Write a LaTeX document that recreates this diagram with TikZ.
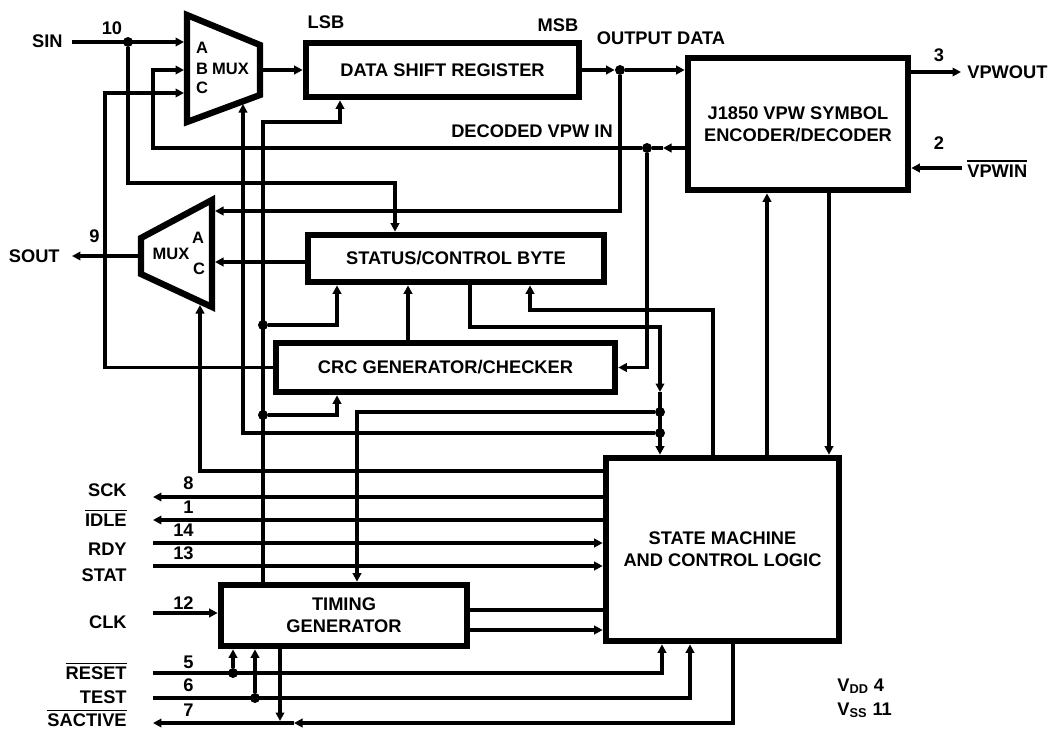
\documentclass[tikz,border=0pt]{standalone}
\usepackage{fontspec}
\setmainfont{Liberation Sans}
\usetikzlibrary{arrows.meta}
\usetikzlibrary{calc}
\newcommand{\ovl}[1]{\setbox0\hbox{#1}\rlap{\raise\dimexpr\ht0+1.4pt\relax\hbox{\vrule width\wd0 height 0.9pt depth 0pt}}\box0}

\begin{document}
\begin{tikzpicture}[x=0.02cm,y=-0.02cm]
			\tikzstyle{every node}=[font=\fontsize{10.4}{12.5}\selectfont\bfseries]
			\tikzstyle{blk}=[draw,line width=3.8pt,align=center,inner sep=0pt]
			\tikzstyle{wire}=[line width=2.2pt]
			\tikzstyle{sig}=[wire,-{Triangle[length=1.7mm,width=1.7mm]}]
			\tikzstyle{dot}=[circle,fill,inner sep=0pt,minimum size=2mm]
			\tikzstyle{lbl}=[inner sep=0pt]
			\tikzstyle{muxtxt}=[inner sep=0pt,font=\fontsize{9.4}{11}\selectfont\bfseries]

			\useasboundingbox (0,0) rectangle (1052,731);

			% blocks
			\node (dsr) [blk,minimum width=5.46cm,minimum height=1.08cm] at (442.5,70) {DATA SHIFT REGISTER};
			\node (enc) [blk,minimum width=4.4cm,minimum height=2.64cm] at (798,124) {J1850 VPW SYMBOL\\ENCODER/DECODER};
			\node (status) [blk,minimum width=5.92cm,minimum height=0.94cm] at (456,258.5) {STATUS/CONTROL BYTE};
			\node (crc) [blk,minimum width=6.78cm,minimum height=0.98cm] at (445.5,367.5) {CRC GENERATOR/CHECKER};
			\node (sm) [blk,minimum width=4.66cm,minimum height=3.66cm] at (722.5,549.5) {STATE MACHINE\\AND CONTROL LOGIC};
			\node (tim) [blk,minimum width=4.92cm,minimum height=1.22cm] at (344,615.5) {TIMING\\GENERATOR};

			% multiplexers
			\draw[line width=3.6pt] (187,15) -- (260,45) -- (260,95) -- (187,122) -- cycle;
			\draw[line width=3.6pt] (212,200) -- (141,238) -- (141,274) -- (212,307) -- cycle;
			\node[muxtxt] (lA1) at (202,48) {A};
			\node[muxtxt] (lB1) at (202,69) {B};
			\node[muxtxt] (lM1) at (230.5,69) {MUX};
			\node[muxtxt] (lC1) at (202,88) {C};
			\node[muxtxt] (lA2) at (198,238) {A};
			\node[muxtxt] (lM2) at (171,254) {MUX};
			\node[muxtxt] (lC2) at (199,269) {C};

			\coordinate (m1A) at (184,42);
			\coordinate (m1B) at (184,70);
			\coordinate (m1C) at (184,93);
			\coordinate (m1O) at (263,70);
			\coordinate (m1S) at (243,104);
			\coordinate (m2A) at (215,211);
			\coordinate (m2C) at (215,262);
			\coordinate (m2O) at (138,256);
			\coordinate (m2S) at (200,305);

			% junctions
			\node[dot] (d10) at (128,42) {};
			\node[dot] (dOut) at (620,70) {};
			\node[dot] (dDec) at (647,148) {};
			\node[dot] (dS) at (263,325) {};
			\node[dot] (dC) at (263,415) {};
			\node[dot] (dT) at (660,412) {};
			\node[dot] (dM) at (660,433) {};
			\node[dot] (dRs) at (233,673) {};
			\node[dot] (dTs) at (255,698) {};

			% labels
			\node[lbl,anchor=base east] (sin) at (63,47.5) {SIN};
			\node[lbl,anchor=base] (n10) at (112,34.5) {10};
			\node[lbl,anchor=base] (lsb) at (326,28.5) {LSB};
			\node[lbl,anchor=base] (msb) at (558,31) {MSB};
			\node[lbl,anchor=base] (outd) at (661,44) {OUTPUT DATA};
			\node[lbl,anchor=base] (decd) at (532,137) {DECODED VPW IN};
			\node[lbl,anchor=base] (n3) at (939,61) {3};
			\node[lbl,anchor=base west] (vpwout) at (967,78.5) {VPWOUT};
			\node[lbl,anchor=base] (n2) at (939,149) {2};
			\node[lbl,anchor=base west] (vpwin) at (967,177) {\ovl{VPWIN}};
			\node[lbl,anchor=base east] (sout) at (60,262) {SOUT};
			\node[lbl,anchor=base east] (n9) at (100,242) {9};
			\node[lbl,anchor=base west] (vdd) at (837,691) {V\textsubscript{DD} 4};
			\node[lbl,anchor=base west] (vss) at (837,715) {V\textsubscript{SS} 11};

			\foreach \nm/\txt/\yb in {sck/SCK/496.5,idle/\ovl{IDLE}/526.5,rdy/RDY/555.5,stat/STAT/581.5,clk/CLK/628.5,reset/\ovl{RESET}/679.5,test/TEST/703.5,sact/\ovl{SACTIVE}/726.5}
				\node[lbl,anchor=base east] (\nm) at (127,\yb) {\txt};
			\foreach \nm/\num/\yb in {p8/8/489,p1/1/513,p14/14/536,p13/13/559,p12/12/609,p5/5/668,p6/6/691,p7/7/716}
				\node[lbl,anchor=base east] (\nm) at (194,\yb) {\num};

			% pin ends and bends
			\coordinate (eSin) at (72,42);
			\coordinate (eSout) at (72,256);
			\coordinate (eVout) at (961,72);
			\coordinate (eVin) at (962,168);
			\coordinate (eSck) at (153,497);
			\coordinate (eIdle) at (153,520);
			\coordinate (eRdy) at (153,543);
			\coordinate (eStat) at (153,566);
			\coordinate (eClk) at (153,613);
			\coordinate (eReset) at (153,673);
			\coordinate (eTest) at (153,698);
			\coordinate (eSact) at (153,723);
			\coordinate (c1) at (395,183);
			\coordinate (cB) at (153,70);
			\coordinate (cC) at (105,93);
			\coordinate (cO) at (620,211);
			\coordinate (kDa) at (663,148);
			\coordinate (kD) at (340,122);
			\coordinate (kS) at (337,325);
			\coordinate (kX) at (408,340);
			\coordinate (kQ) at (470,327);
			\coordinate (kA) at (660,392);
			\coordinate (kT) at (357,412);
			\coordinate (kU) at (713,310);
			\coordinate (kV) at (530,310);
			\coordinate (kE) at (767,300);
			\coordinate (kF) at (829,300);
			\coordinate (kM) at (200,471);
			\coordinate (kG) at (470,610);
			\coordinate (kH) at (470,630);
			\coordinate (kR) at (662,673);
			\coordinate (kW) at (690,698);
			\coordinate (kY) at (733,723);
			\coordinate (kZ) at (294,723);
			\coordinate (kTs) at (280,721);

			% serial data path
			\draw[sig] (eSin) -- (m1A);
			\draw[sig] (d10) |- (c1) -- (c1 |- status.north);
			\draw[sig] (m1O) -- (dsr.west);
			\draw[sig] (dsr.east) -- (dOut.west);
			\draw[sig] (dOut) -- (dOut -| enc.west);
			\draw[sig] (eVout -| enc.east) -- (eVout);
			\draw[sig] (eVin) -- (eVin -| enc.east);
			\draw[sig] (kDa -| enc.west) -- (kDa);
			\draw[wire] (kDa) -- (dDec);
			\draw[sig] (dDec) -| (cB) -- (m1B);
			\draw[sig] (dDec) |- (crc.east);
			\draw[sig] (crc.west) -| (cC) -- (m1C);
			\draw[sig] (dOut) -- (cO) -- (m2A);
			\draw[sig] (status.west |- m2C) -- (m2C);
			\draw[sig] (m2O) -- (eSout);

			% timing generator outputs
			\draw[sig] (dS |- tim.north) |- (kD) -- (kD |- dsr.south);
			\draw[sig] (dS) -| (kS |- status.south);
			\draw[sig] (dC) -| (kS |- crc.south);
			\draw[sig] (kX |- crc.north) -- (kX |- status.south);

			% control paths
			\draw[sig] (kQ |- status.south) -- (kQ) -| (kA);
			\draw[sig] (kA) -- (kA |- sm.north);
			\draw[sig] (dT) -| (kT |- tim.north);
			\draw[sig] (dM) -| (m1S);
			\draw[sig] (kU |- sm.north) |- (kV) -- (kV |- status.south);
			\draw[sig] (kE |- sm.north) -- (kE |- enc.south);
			\draw[sig] (kF |- enc.south) -- (kF |- sm.north);
			\draw[sig] (sm.west |- kM) -| (m2S);

			\path[sig] (sm.west |- eSck) edge (eSck)
			(sm.west |- eIdle) edge (eIdle)
			(eRdy) edge (eRdy -| sm.west)
			(eStat) edge (eStat -| sm.west)
			(eClk) edge (eClk -| tim.west)
			(tim.east |- kH) edge (kH -| sm.west);
			\draw[wire] (tim.east |- kG) -- (kG -| sm.west);

			\draw[sig] (eReset) -| (kR |- sm.south);
			\draw[sig] (eTest) -| (kW |- sm.south);
			\draw[sig] (dRs) -- (dRs |- tim.south);
			\draw[sig] (dTs) -- (dTs |- tim.south);
			\draw[sig] (kY |- sm.south) |- (kZ);
			\draw[sig] (kZ) -- (eSact);
			\draw[sig] (kTs |- tim.south) -- (kTs);

		\end{tikzpicture}
\end{document}
